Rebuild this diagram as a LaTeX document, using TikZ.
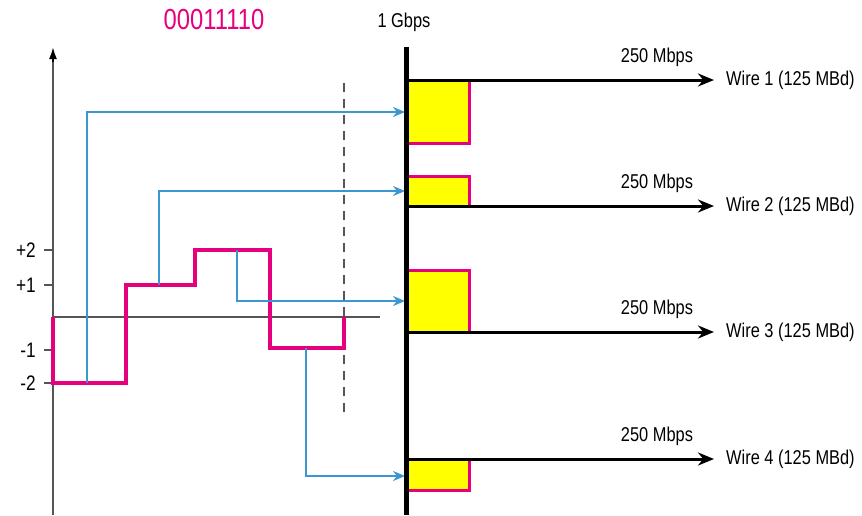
\documentclass[tikz,border=0pt]{standalone}
\usepackage{fontspec}
\setmainfont{Liberation Sans}[FakeStretch=0.82]
\usetikzlibrary{arrows.meta}
\definecolor{sigpink}{HTML}{E6007E}
\definecolor{sigblue}{HTML}{3A97CF}
\definecolor{boxyellow}{HTML}{FFFF00}
\definecolor{axisgray}{HTML}{555555}
\begin{document}
\begin{tikzpicture}[x=1pt,y=-1pt,
  lbl/.style={font=\fontsize{20}{22}\selectfont, inner sep=0pt},
  ticklbl/.style={font=\fontsize{21}{23}\selectfont, inner sep=0pt, anchor=east},
  bluearrow/.style={draw=sigblue, line width=2pt, -{Stealth[length=12pt,width=10pt]}},
  wirearrow/.style={draw=black, line width=3pt, -{Stealth[length=16pt,width=13pt]}},
  signal/.style={draw=sigpink, line width=3.6pt, line join=miter},
  pinkedge/.style={draw=sigpink, line width=3pt}]
\useasboundingbox (0,0) rectangle (862,515);

% titles
\node[lbl, text=sigpink, font=\fontsize{29}{31}\selectfont] (bits) at (214,20) {00011110};
\node[lbl] (gbps) at (404,22) {1 Gbps};

% axes
\coordinate (ybot) at (53,515);
\coordinate (ytop) at (53,47);
\draw[axisgray, line width=2pt] (ybot) -- (53,60);
\draw[black, line width=2pt, -{Latex[length=12pt,width=8pt]}] (53,62) -- (ytop);
\coordinate (z0) at (53,317);
\coordinate (z1) at (380,317);
\draw[axisgray, line width=2.2pt] (z0) -- (z1);

% ticks and labels
\foreach \v/\yy in {+2/250,+1/285,-1/350,-2/383}{
  \draw[axisgray, line width=1.8pt] (44,\yy) -- (53,\yy);
  \node[ticklbl] at (36,\yy) {\v};
}

% dashed line
\coordinate (d0) at (344,83);
\coordinate (d1) at (344,418);
\draw[axisgray, line width=1.8pt, dash pattern=on 9pt off 7pt] (d0) -- (d1);

% yellow boxes
\fill[boxyellow] (406,80) rectangle (469,143);
\fill[boxyellow] (406,176) rectangle (469,206);
\fill[boxyellow] (406,270) rectangle (469,332);
\fill[boxyellow] (406,459) rectangle (469,490);
\draw[pinkedge] (406,143) -- (469,143) -- (469,80);
\draw[pinkedge] (406,176) -- (469,176) -- (469,206);
\draw[pinkedge] (406,270) -- (469,270) -- (469,332);
\draw[pinkedge] (406,490) -- (469,490) -- (469,459);

% signal
\draw[signal] (53,317) -- (53,383) -- (126,383) -- (126,285) -- (195,285)
  -- (195,250) -- (270,250) -- (270,348) -- (344,348) -- (344,317);

% blue connectors
\coordinate (b1s) at (87,383);  \coordinate (b1e) at (405,112);
\coordinate (b2s) at (159,285); \coordinate (b2e) at (405,191);
\coordinate (b3s) at (237,250); \coordinate (b3e) at (405,301);
\coordinate (b4s) at (306,348); \coordinate (b4e) at (405,476);
\draw[bluearrow] (b1s) |- (b1e);
\draw[bluearrow] (b2s) |- (b2e);
\draw[bluearrow] (b3s) |- (b3e);
\draw[bluearrow] (b4s) |- (b4e);

% wires
\foreach \i/\yy in {1/80,2/206,3/332,4/459}{
  \coordinate (ws\i) at (406,\yy);
  \coordinate (we\i) at (714,\yy);
  \draw[wirearrow] (ws\i) -- (we\i);
  \node[lbl, anchor=west] (wire\i) at (726,\yy) {Wire \i\ (125 MBd)};
  \node[lbl] (rate\i) at (657,\yy-23) {250 Mbps};
}

% main bus
\coordinate (bus0) at (406,47);
\coordinate (bus1) at (406,515);
\draw[black, line width=5pt] (bus0) -- (bus1);
\end{tikzpicture}
\end{document}
